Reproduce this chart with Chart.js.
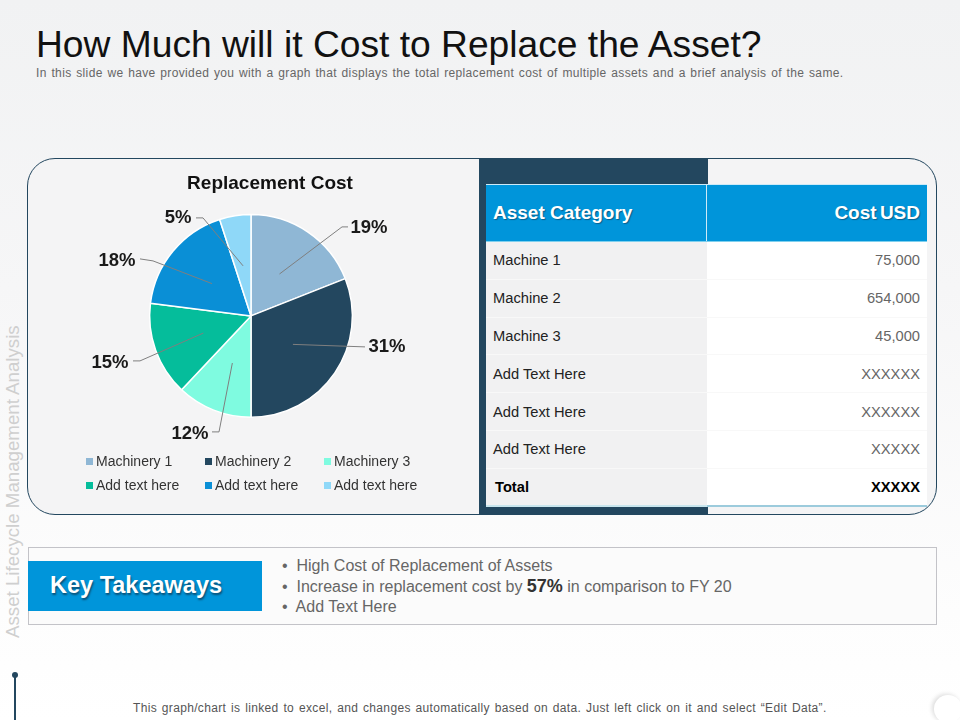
<!DOCTYPE html>
<html>
<head>
<meta charset="utf-8">
<script src="https://cdn.jsdelivr.net/npm/chart.js@4/dist/chart.umd.min.js"></script>
<style>
  html, body { margin: 0; padding: 0; }
  body { width: 960px; height: 720px; position: relative; overflow: hidden; font-family: "Liberation Sans", Arial, sans-serif;
    background: linear-gradient(#f1f2f3 0, #f6f6f7 40%, #fdfdfd 85%, #ffffff 100%); }
  .abs { position: absolute; white-space: nowrap; }
  #title { left: 36px; top: 23px; font-size: 37.2px; line-height: 42px; color: #111; }
  #sub { left: 36px; top: 66px; font-size: 12px; line-height: 14px; color: #666; word-spacing: 1px; letter-spacing: 0.36px; }
  #side { left: 13px; top: 638px; font-size: 18.7px; line-height: 18px; color: #cfcfcf; transform-origin: 0 0; transform: rotate(-90deg) translateY(-9px); }
  #panel { left: 27px; top: 158px; width: 908px; height: 355px; border: 1px solid #23475f; border-radius: 28px; background: #f4f4f5; }
  #block { left: 479px; top: 158px; width: 229px; height: 357px; background: #23475f; }
  #chartBox { left: 25px; top: 160px; width: 452px; height: 354px; }
  #legend { left: 86px; top: 449px; width: 360px; display: grid; grid-template-columns: 119px 119px 119px; font-size: 14px; line-height: 24px; color: #333; }
  #legend span i { display: inline-block; width: 7px; height: 7px; margin-right: 3px; vertical-align: 1px; }
  #tbl { left: 486px; top: 184px; width: 441px; border-collapse: collapse; border-spacing: 0; table-layout: fixed; }
  #tbl th { background: #0095da; color: #fff; height: 56px; padding: 0 7px; font-size: 19px; text-shadow: 1px 1px 1px #0a5f8c; border-top: 1px solid #cdeaf7; border-bottom: 1px solid #7fd0ee; }
  #tbl th:first-child { text-align: left; border-right: 1px solid #cdeaf7; }
  #tbl th:last-child { text-align: right; word-spacing: -2px; }
  #tbl td { height: 37.8px; padding: 0 7px; font-size: 14.7px; box-sizing: border-box; border-bottom: 1px solid #f8f8f8; }
  #tbl td:first-child { background: #f1f1f2; color: #222; }
  #tbl td:last-child { background: #fff; color: #666; text-align: right; }
  #tbl tr.total td { color: #000; font-weight: bold; border-bottom: 2px solid #9ccbdc; }
  #tbl tr.total td:first-child { padding-left: 9px; border-bottom-color: #c9e6ee; }
  #keyBox { left: 28px; top: 547px; width: 907px; height: 76px; border: 1px solid #c3c3c8; background: #fbfbfb; }
  #keyHead { left: 28px; top: 561px; width: 212px; height: 50px; padding-left: 22px; line-height: 49px; background: #0095da; color: #fff; font-size: 23.5px; font-weight: bold; text-shadow: 1px 2px 2px #0a4f74; }
  .bul { font-size: 16px; line-height: 20px; color: #666; }
  .bul b { font-size: 18px; color: #333; }
  #foot { left: 133px; top: 701px; font-size: 12px; line-height: 14px; color: #555; word-spacing: 1.2px; letter-spacing: 0.33px; }
  #dot { left: 12px; top: 672px; width: 6px; height: 6px; border-radius: 50%; background: #23475f; }
  #stem { left: 14px; top: 675px; width: 2px; height: 45px; background: #23475f; }
  #knob { left: 934px; top: 695px; width: 28px; height: 28px; border-radius: 50%; background: #fff; box-shadow: -2px -1px 4px #ddd; }
</style>
</head>
<body>
<div class="abs" id="title">How Much will it Cost to Replace the Asset?</div>
<div class="abs" id="sub">In this slide we have provided  you with a graph that displays the total replacement  cost of multiple assets and a brief analysis of the same.</div>
<div class="abs" id="panel"></div>
<div class="abs" id="block"></div>
<div class="abs" id="side">Asset Lifecycle Management Analysis</div>
<div class="abs" id="chartBox"><canvas id="pieCanvas" width="452" height="354"></canvas></div>
<div class="abs" id="legend"></div>
<table class="abs" id="tbl"></table>
<div class="abs" id="keyBox"></div>
<div class="abs" id="keyHead">Key Takeaways</div>
<div class="abs bul" style="left:282px;top:556px">•&nbsp; High Cost of Replacement of Assets</div>
<div class="abs bul" style="left:282px;top:576px">•&nbsp; Increase in replacement cost by <b>57%</b> in comparison to FY 20</div>
<div class="abs bul" style="left:282px;top:597px">•&nbsp; Add Text Here</div>
<div class="abs" id="foot">This graph/chart is linked to excel, and changes automatically based on data. Just left click on it and select “Edit Data”.</div>
<div class="abs" id="stem"></div>
<div class="abs" id="dot"></div>
<div class="abs" id="knob"></div>

<script>
// pie data
const categories = ['Machinery 1', 'Machinery 2', 'Machinery 3', 'Add text here', 'Add text here', 'Add text here'];
const shares = [19, 31, 12, 15, 18, 5];
const sliceColors = ['#8fb7d5', '#23475f', '#7ffbe0', '#05bd9b', '#0a8fd6', '#8fd8f8'];

// table data
const assetNames = ['Machine 1', 'Machine 2', 'Machine 3', 'Add Text Here', 'Add Text Here', 'Add Text Here', 'Total'];
const assetCosts = ['75,000', '654,000', '45,000', 'XXXXXX', 'XXXXXX', 'XXXXX', 'XXXXX'];

// leader line elbows and label spots, relative to the pie centre
const elbowOffsets = [[91, -89], [114, 31], [-32, 116], [-111, 45], [-98, -55], [-48, -98]];
const stubOffsets = [[97, -89], [114, 31], [-39, 116], [-118, 45], [-111, -57], [-55, -98]];
const labelOffsets = [[118, -88], [136, 31], [-61, 118], [-141, 47], [-134, -55], [-73, -98]];

const leaderLines = {
  id: 'leaderLines',
  // the title sits to the right of the pie centre in the reference
  afterLayout(chart) {
    chart.titleBlock.left += 19;
    chart.titleBlock.right += 19;
  },
  afterDatasetsDraw(chart) {
    const ctx = chart.ctx;
    const arcs = chart.getDatasetMeta(0).data;
    ctx.save();
    arcs.forEach(function(arc, i) {
      const mid = (arc.startAngle + arc.endAngle) / 2;
      const startX = arc.x + Math.cos(mid) * arc.outerRadius / 2;
      const startY = arc.y + Math.sin(mid) * arc.outerRadius / 2;
      ctx.beginPath();
      ctx.moveTo(startX, startY);
      ctx.lineTo(arc.x + elbowOffsets[i][0], arc.y + elbowOffsets[i][1]);
      ctx.lineTo(arc.x + stubOffsets[i][0], arc.y + stubOffsets[i][1]);
      ctx.strokeStyle = '#7f7f7f';
      ctx.lineWidth = 1;
      ctx.stroke();
      ctx.font = 'bold 18.5px "Liberation Sans"';
      ctx.fillStyle = '#1a1a1a';
      ctx.textAlign = 'center';
      ctx.textBaseline = 'middle';
      ctx.fillText(shares[i] + '%', arc.x + labelOffsets[i][0], arc.y + labelOffsets[i][1]);
    });
    ctx.restore();
  }
};

new Chart(document.getElementById('pieCanvas').getContext('2d'), {
  type: 'pie',
  data: {
    labels: categories,
    datasets: [{
      data: shares,
      backgroundColor: sliceColors,
      borderColor: '#ffffff',
      borderWidth: 1.5
    }]
  },
  options: {
    responsive: false,
    animation: false,
    devicePixelRatio: 1,
    layout: { padding: { bottom: 96 } },
    plugins: {
      legend: { display: false },
      tooltip: { enabled: false },
      title: {
        display: true,
        text: 'Replacement Cost',
        color: '#111',
        font: { family: '"Liberation Sans"', size: 19, weight: 'bold' },
        padding: { top: 12, bottom: 19 }
      }
    }
  },
  plugins: [leaderLines]
});

// legend is three fixed columns, which the built-in one can't do
document.getElementById('legend').innerHTML = categories.map(function(name, i) {
  return '<span><i style="background:' + sliceColors[i] + '"></i>' + name + '</span>';
}).join('');

document.getElementById('tbl').innerHTML =
  '<tr><th>Asset Category</th><th>Cost USD</th></tr>' +
  assetNames.map(function(name, i) {
    const cls = name === 'Total' ? ' class="total"' : '';
    return '<tr' + cls + '><td>' + name + '</td><td>' + assetCosts[i] + '</td></tr>';
  }).join('');
</script>
</body>
</html>
